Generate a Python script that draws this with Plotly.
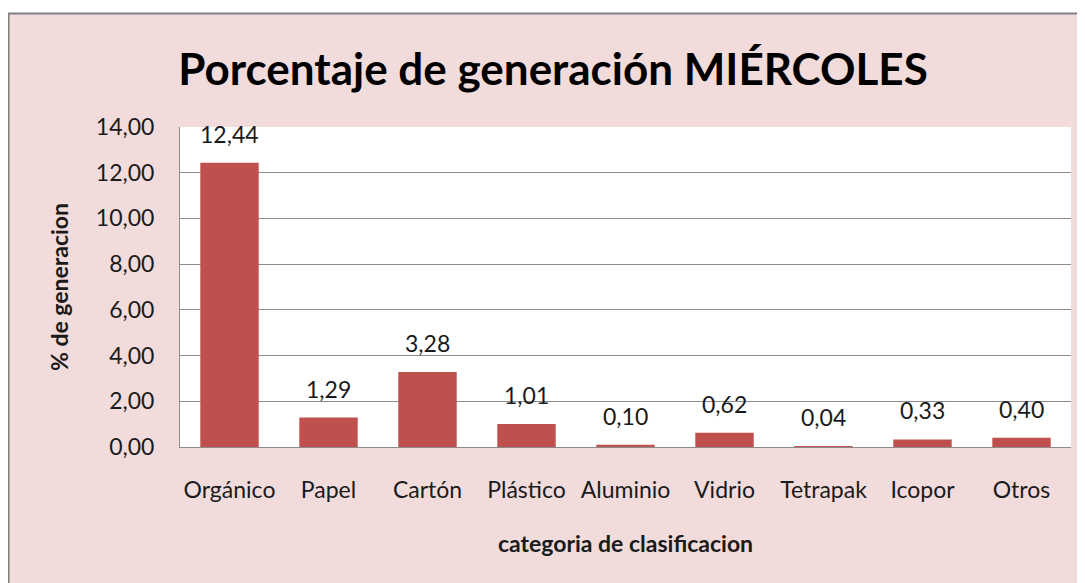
import plotly.graph_objects as go

# data
categorias = ["Orgánico", "Papel", "Cartón", "Plástico", "Aluminio",
              "Vidrio", "Tetrapak", "Icopor", "Otros"]
porcentajes = [12.44, 1.29, 3.28, 1.01, 0.10, 0.62, 0.04, 0.33, 0.40]
y_ticks = [0, 2, 4, 6, 8, 10, 12, 14]

# page body adds an 8px margin, so work in figure pixels (screen - 8)
W, H = 1077, 575
L, R, T, B = 172, 14, 119, 136
pw, ph = W - L - R, H - T - B


def px_x(p):
    return (p - L) / pw


def px_y(p):
    return (H - B - p) / ph


FONT = "Lato"
PINK = "#f2dcdb"
BAR = "#c0504d"
GRID = "#8c8c8c"

fig = go.Figure()
fig.add_trace(go.Bar(x=categorias, y=porcentajes, marker_color=BAR,
                     marker_line_width=0, showlegend=False))

# value labels above bars
for c, v in zip(categorias, porcentajes):
    fig.add_annotation(x=c, y=v, text=f"{v:.2f}".replace(".", ","),
                       showarrow=False, yanchor="bottom", yshift=13,
                       font=dict(family=FONT, size=23, color="#1a1a1a"))

fig.update_layout(
    width=W, height=H,
    margin=dict(l=L, r=R, t=T, b=B),
    paper_bgcolor="white",
    plot_bgcolor="rgba(0,0,0,0)",
    separators=",.",
    bargap=0.41,
    font=dict(family=FONT, size=23, color="#1a1a1a"),
    title=dict(text="<b>Porcentaje de generación MIÉRCOLES</b>",
               x=px_x(545), xref="paper", xanchor="center",
               y=1 - 62 / H, yanchor="middle",
               font=dict(family=FONT, size=44, color="black")),
    shapes=[
        # chart area with grey border
        dict(type="rect", xref="paper", yref="paper", layer="below",
             x0=px_x(0.5), x1=px_x(W + 20), y0=px_y(H + 20), y1=px_y(5.5),
             fillcolor=PINK, line=dict(color="#7f7f7f", width=2)),
        # white plot area
        dict(type="rect", xref="paper", yref="paper", layer="below",
             x0=0, x1=1, y0=0, y1=1, fillcolor="white", line_width=0),
    ],
)

fig.update_xaxes(showgrid=False, showline=True, linecolor=GRID, linewidth=1,
                 ticks="", ticklabelstandoff=22,
                 tickfont=dict(family=FONT, size=23),
                 title=dict(text="<b>categoria de clasificacion</b>",
                            standoff=34, font=dict(family=FONT, size=23)))
fig.update_yaxes(range=[0, 14], tickvals=y_ticks, tickformat=".2f",
                 showgrid=True, gridcolor=GRID, gridwidth=1,
                 showline=True, linecolor=GRID, linewidth=1,
                 zeroline=False, ticks="", ticklabelstandoff=20,
                 tickfont=dict(family=FONT, size=23),
                 title=dict(text="<b>% de generacion</b>", standoff=20,
                            font=dict(family=FONT, size=23)))

fig.write_html("out.html")
